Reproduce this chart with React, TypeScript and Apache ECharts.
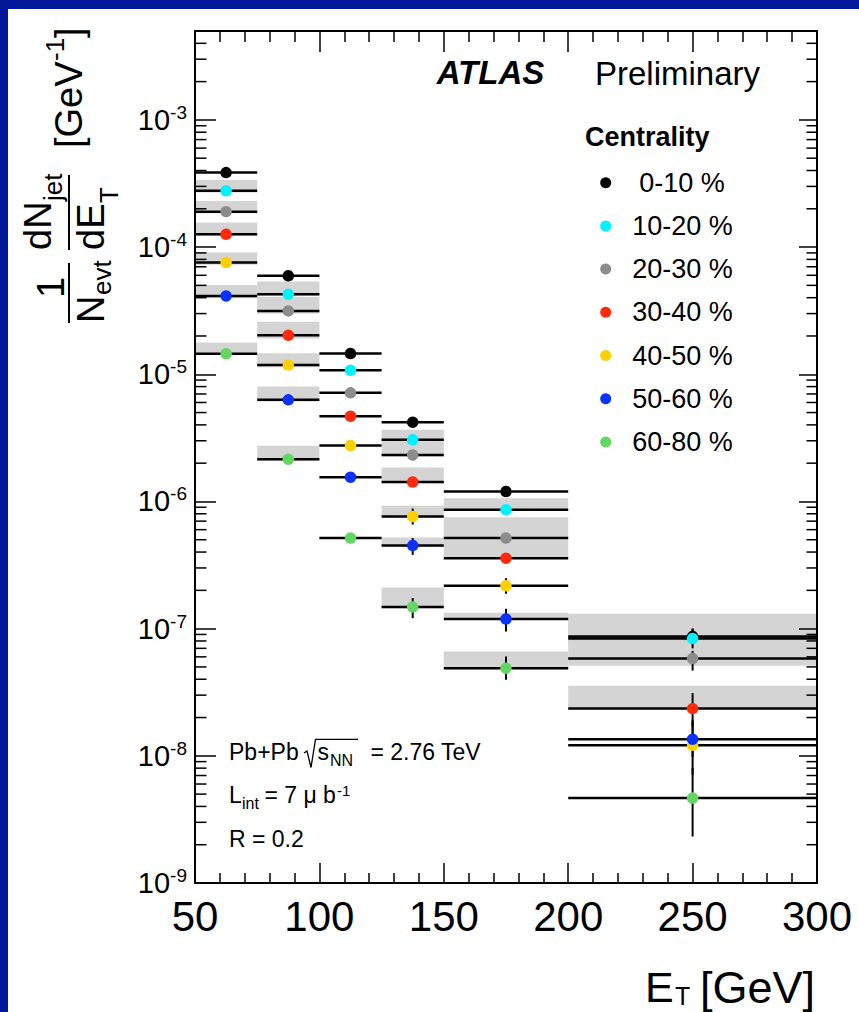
import React, { useEffect, useRef } from 'react';
import * as echarts from 'echarts';

// ---------- data ----------
const binEdges = [50, 75, 100, 125, 150, 200, 300];
const binCenters = [62.5, 87.5, 112.5, 137.5, 175, 250];
const centralityLabels = ['0-10 %', '10-20 %', '20-30 %', '30-40 %', '40-50 %', '50-60 %', '60-80 %'];
const markerColors = ['#000000', '#00f2ff', '#8c8c8c', '#ff2a0a', '#ffd000', '#0a32ff', '#63d663'];

// 1/Nevt dNjet/dET per centrality (rows) and ET bin (columns)
const yields: number[][] = [
  [3.85e-4, 5.94e-5, 1.455e-5, 4.2e-6, 1.196e-6, 8.67e-8],
  [2.77e-4, 4.26e-5, 1.077e-5, 3.05e-6, 8.59e-7, 8.36e-8],
  [1.9e-4, 3.15e-5, 7.14e-6, 2.32e-6, 5.15e-7, 5.82e-8],
  [1.26e-4, 2.03e-5, 4.68e-6, 1.42e-6, 3.58e-7, 2.35e-8],
  [7.55e-5, 1.18e-5, 2.75e-6, 7.61e-7, 2.17e-7, 1.21e-8],
  [4.13e-5, 6.29e-6, 1.55e-6, 4.5e-7, 1.19e-7, 1.35e-8],
  [1.45e-5, 2.15e-6, 5.15e-7, 1.48e-7, 4.89e-8, 4.65e-9],
];
// systematic band (grey boxes)
const sysUpper: (number | null)[][] = [
  [null, null, null, null, null, 1.307e-7],
  [3.376e-4, 5.355e-5, null, 3.656e-6, 1.061e-6, 1.25e-7],
  [2.307e-4, 4.059e-5, null, 2.968e-6, 7.52e-7, 8.2e-8],
  [1.559e-4, 2.582e-5, null, 1.847e-6, 4.99e-7, 3.55e-8],
  [9.05e-5, 1.465e-5, null, 9.23e-7, null, null],
  [5.04e-5, 8.0e-6, null, 5.2e-7, 1.331e-7, null],
  [1.775e-5, 2.735e-6, null, 2.104e-7, 6.61e-8, null],
];
const sysLower: (number | null)[][] = [
  [null, null, null, null, null, 8.2e-8],
  [2.682e-4, 4.134e-5, null, 2.968e-6, 8.48e-7, 7.5e-8],
  [1.847e-4, 3.011e-5, null, 2.254e-6, 4.99e-7, 5.1e-8],
  [1.225e-4, 1.909e-5, null, 1.393e-6, 3.52e-7, 2.33e-8],
  [7.25e-5, 1.137e-5, null, 7.52e-7, null, null],
  [3.965e-5, 6.1e-6, null, 4.42e-7, 1.173e-7, null],
  [1.421e-5, 2.085e-6, null, 1.449e-7, 4.8e-8, null],
];
// statistical error bars
const statUpper: (number | null)[][] = [
  [null, null, null, null, null, 1.002e-7],
  [null, null, null, null, null, 1.0e-7],
  [null, null, null, null, null, 6.69e-8],
  [null, null, null, null, null, 3.11e-8],
  [null, null, null, 8.79e-7, 2.495e-7, 1.92e-8],
  [null, null, null, 5.15e-7, 1.431e-7, 1.85e-8],
  [null, null, null, 1.737e-7, 6.04e-8, 8.04e-9],
];
const statLower: (number | null)[][] = [
  [null, null, null, null, null, 7.5e-8],
  [null, null, null, null, null, 7.0e-8],
  [null, null, null, null, null, 4.68e-8],
  [null, null, null, null, null, 1.72e-8],
  [null, null, null, 6.58e-7, 1.878e-7, 7.09e-9],
  [null, null, null, 3.8e-7, 9.49e-8, 9.82e-9],
  [null, null, null, 1.209e-7, 3.96e-8, 2.32e-9],
];

const xTickValues = [50, 100, 150, 200, 250, 300];
const yDecades = [-9, -8, -7, -6, -5, -4, -3];
const yMinorMultipliers = [2, 3, 4, 5, 6, 7, 8, 9];
const yMin = 1e-9;
const yMax = 5e-3;

const FONT = '"Liberation Sans", Arial, Helvetica, sans-serif';

function txt(x: number, y: number, text: string, size: number, extra: any = {}) {
  return {
    type: 'text',
    x,
    y,
    style: {
      text,
      fontSize: size,
      fontFamily: FONT,
      fill: '#000',
      align: 'left',
      verticalAlign: 'middle',
      ...extra,
    },
  };
}

export default function App() {
  const ref = useRef<HTMLDivElement>(null);

  useEffect(() => {
    if (!ref.current) return;
    const chart = echarts.init(ref.current, null, { renderer: 'svg' });

    const minorVals: number[][] = [];
    yDecades.forEach((d) => {
      yMinorMultipliers.forEach((m) => {
        const v = m * Math.pow(10, d);
        if (v < yMax) minorVals.push([50, v]);
      });
    });

    const bandData: number[][] = [];
    const lineData: number[][] = [];
    yields.forEach((row, i) => {
      row.forEach((y, j) => {
        const hi = sysUpper[i][j];
        const lo = sysLower[i][j];
        if (hi != null && lo != null) bandData.push([binEdges[j], binEdges[j + 1], lo, hi]);
        const su = statUpper[i][j];
        const sl = statLower[i][j];
        lineData.push([binEdges[j], binEdges[j + 1], y, su != null ? su : y, sl != null ? sl : y, binCenters[j]]);
      });
    });

    const scatterSeries = yields.map((row, i) => ({
      name: centralityLabels[i],
      type: 'scatter',
      symbol: 'circle',
      symbolSize: 11.5,
      z: 6,
      itemStyle: { color: markerColors[i], opacity: 1 },
      data: row.map((y, j) => [binCenters[j], y]),
    }));

    const yLabelFmt = (v: number) => {
      const l = Math.log10(v);
      const e = Math.round(l);
      if (Math.abs(l - e) > 1e-6 || yDecades.indexOf(e) < 0) return '';
      return `{b|10}{s|${e}}`;
    };

    const option: any = {
      animation: false,
      backgroundColor: '#ffffff',
      grid: { left: 187, top: 22, right: 42, bottom: 129, containLabel: false },
      legend: {
        orient: 'vertical',
        left: 592.2,
        top: 158.7,
        padding: 0,
        itemGap: 13.2,
        itemWidth: 11,
        itemHeight: 11,
        icon: 'circle',
        selectedMode: false,
        itemStyle: { opacity: 1 },
        textStyle: { fontSize: 27, lineHeight: 30, fontFamily: FONT, color: '#000', padding: [0, 0, 0, 16] },
        data: centralityLabels.map((n, i) =>
          i === 0 ? { name: n, textStyle: { padding: [0, 0, 0, 23] } } : { name: n }
        ),
      },
      xAxis: [
        {
          type: 'value',
          position: 'bottom',
          min: 50,
          max: 300,
          interval: 50,
          axisLine: { show: true, lineStyle: { color: '#000', width: 2 } },
          axisTick: { show: true, inside: true, length: 20, lineStyle: { color: '#000', width: 1.5 } },
          minorTick: { show: true, splitNumber: 5, length: 10, lineStyle: { color: '#000', width: 1.5 } },
          splitLine: { show: false },
          axisLabel: {
            show: true,
            margin: 12,
            fontSize: 42,
            fontFamily: FONT,
            color: '#000',
            formatter: (v: number) => (xTickValues.indexOf(v) >= 0 ? String(v) : ''),
          },
        },
        {
          type: 'value',
          position: 'top',
          min: 50,
          max: 300,
          interval: 50,
          axisLine: { show: true, lineStyle: { color: '#000', width: 2 } },
          axisTick: { show: true, inside: true, length: 21, lineStyle: { color: '#000', width: 1.5 } },
          minorTick: { show: true, splitNumber: 5, length: 11, lineStyle: { color: '#000', width: 1.5 } },
          splitLine: { show: false },
          axisLabel: { show: false },
        },
      ],
      yAxis: [
        {
          type: 'log',
          logBase: 10,
          position: 'left',
          min: yMin,
          max: yMax,
          axisLine: { show: true, lineStyle: { color: '#000', width: 2 } },
          axisTick: { show: true, inside: true, length: 21, lineStyle: { color: '#000', width: 1.5 } },
          splitLine: { show: false },
          axisLabel: {
            show: true,
            margin: 8,
            formatter: yLabelFmt,
            rich: {
              b: { fontSize: 29, fontFamily: FONT, color: '#000', lineHeight: 34 },
              s: { fontSize: 19, fontFamily: FONT, color: '#000', lineHeight: 19, verticalAlign: 'top' },
            },
          },
        },
        {
          type: 'log',
          logBase: 10,
          position: 'right',
          min: yMin,
          max: yMax,
          axisLine: { show: true, lineStyle: { color: '#000', width: 2 } },
          axisTick: { show: true, inside: true, length: 18, lineStyle: { color: '#000', width: 1.5 } },
          splitLine: { show: false },
          axisLabel: { show: false },
        },
      ],
      series: [
        {
          type: 'custom',
          name: 'minorTicks',
          z: 1,
          silent: true,
          clip: false,
          xAxisIndex: 0,
          yAxisIndex: 0,
          encode: { x: 0, y: 1 },
          data: minorVals,
          renderItem: (params: any, api: any) => {
            const v = api.value(1);
            const pl = api.coord([50, v]);
            const pr = api.coord([300, v]);
            return {
              type: 'group',
              children: [
                { type: 'line', shape: { x1: pl[0], y1: pl[1], x2: pl[0] + 11.5, y2: pl[1] }, style: { stroke: '#000', lineWidth: 1.5 } },
                { type: 'line', shape: { x1: pr[0] - 10.5, y1: pr[1], x2: pr[0], y2: pr[1] }, style: { stroke: '#000', lineWidth: 1.5 } },
              ],
            };
          },
        },
        {
          type: 'custom',
          name: 'sysBands',
          z: -1,
          silent: true,
          xAxisIndex: 0,
          yAxisIndex: 0,
          encode: { x: [0, 1], y: [2, 3] },
          data: bandData,
          renderItem: (params: any, api: any) => {
            const p1 = api.coord([api.value(0), api.value(3)]);
            const p2 = api.coord([api.value(1), api.value(2)]);
            return {
              type: 'rect',
              shape: { x: p1[0], y: p1[1], width: p2[0] - p1[0], height: p2[1] - p1[1] },
              style: { fill: '#d4d4d4' },
            };
          },
        },
        {
          type: 'custom',
          name: 'errorLines',
          z: 3,
          silent: true,
          xAxisIndex: 0,
          yAxisIndex: 0,
          encode: { x: [0, 1, 5], y: [2, 3, 4] },
          data: lineData,
          renderItem: (params: any, api: any) => {
            const a = api.coord([api.value(0), api.value(2)]);
            const b = api.coord([api.value(1), api.value(2)]);
            const top = api.coord([api.value(5), api.value(3)]);
            const bot = api.coord([api.value(5), api.value(4)]);
            return {
              type: 'group',
              children: [
                { type: 'line', shape: { x1: a[0], y1: a[1], x2: b[0], y2: b[1] }, style: { stroke: '#000', lineWidth: 2.5 } },
                { type: 'line', shape: { x1: top[0], y1: top[1], x2: bot[0], y2: bot[1] }, style: { stroke: '#000', lineWidth: 2 } },
              ],
            };
          },
        },
        ...scatterSeries,
      ],
      graphic: [
        // y axis title (rotated)
        {
          type: 'group',
          x: 61,
          y: 314,
          rotation: Math.PI / 2,
          children: [
            txt(35.5, -18, '1', 38, { align: 'center' }),
            { type: 'line', shape: { x1: 0, y1: 0, x2: 60, y2: 0 }, style: { stroke: '#000', lineWidth: 2 } },
            txt(0, 21.5, 'N', 38),
            txt(28, 33, 'evt', 26),
            { type: 'line', shape: { x1: 73, y1: 0, x2: 148, y2: 0 }, style: { stroke: '#000', lineWidth: 2 } },
            txt(73, -31.5, 'dN', 38),
            txt(122, -16, 'jet', 26),
            txt(73, 22, 'dE', 38),
            txt(120, 40, 'T', 26),
            txt(175, 0, '[GeV', 38),
            txt(262, -14, '-1', 26),
            txt(285, 0, ']', 38),
          ],
        },
        // x axis title
        txt(637, 978, 'E', 43, { lineHeight: 43 }),
        txt(667, 987, 'T', 25, { lineHeight: 25 }),
        txt(692, 978, '[GeV]', 45, { lineHeight: 45 }),
        // ATLAS Preliminary
        txt(428.7, 63.4, 'ATLAS', 33, { fontWeight: 'bold', fontStyle: 'italic' }),
        txt(587, 64, 'Preliminary', 33),
        txt(577, 128, 'Centrality', 27, { fontWeight: 'bold' }),
        // Pb+Pb info
        txt(221, 742.8, 'Pb+Pb', 23),
        {
          type: 'polyline',
          shape: { points: [[296, 744], [299, 742], [303, 758.5], [307.5, 730.3], [350, 730.3]] },
          style: { stroke: '#000', lineWidth: 1.3, fill: null },
        },
        txt(309.5, 742.8, 's', 23),
        txt(322, 751.5, 'NN', 16),
        txt(362.4, 742.8, '= 2.76 TeV', 23),
        txt(221, 785.5, 'L', 23),
        txt(234, 794.5, 'int', 16),
        txt(256.4, 785.5, '= 7 μ b', 23),
        txt(329, 781.5, '-1', 15),
        txt(221, 830, 'R = 0.2', 23),
      ],
    };

    chart.setOption(option);
    return () => chart.dispose();
  }, []);

  return (
    <div style={{ position: 'fixed', left: 0, top: 0, width: 859, height: 1012, background: '#031899' }}>
      <div ref={ref} style={{ position: 'absolute', left: 8, top: 9, width: 851, height: 1003, background: '#fff' }} />
    </div>
  );
}
